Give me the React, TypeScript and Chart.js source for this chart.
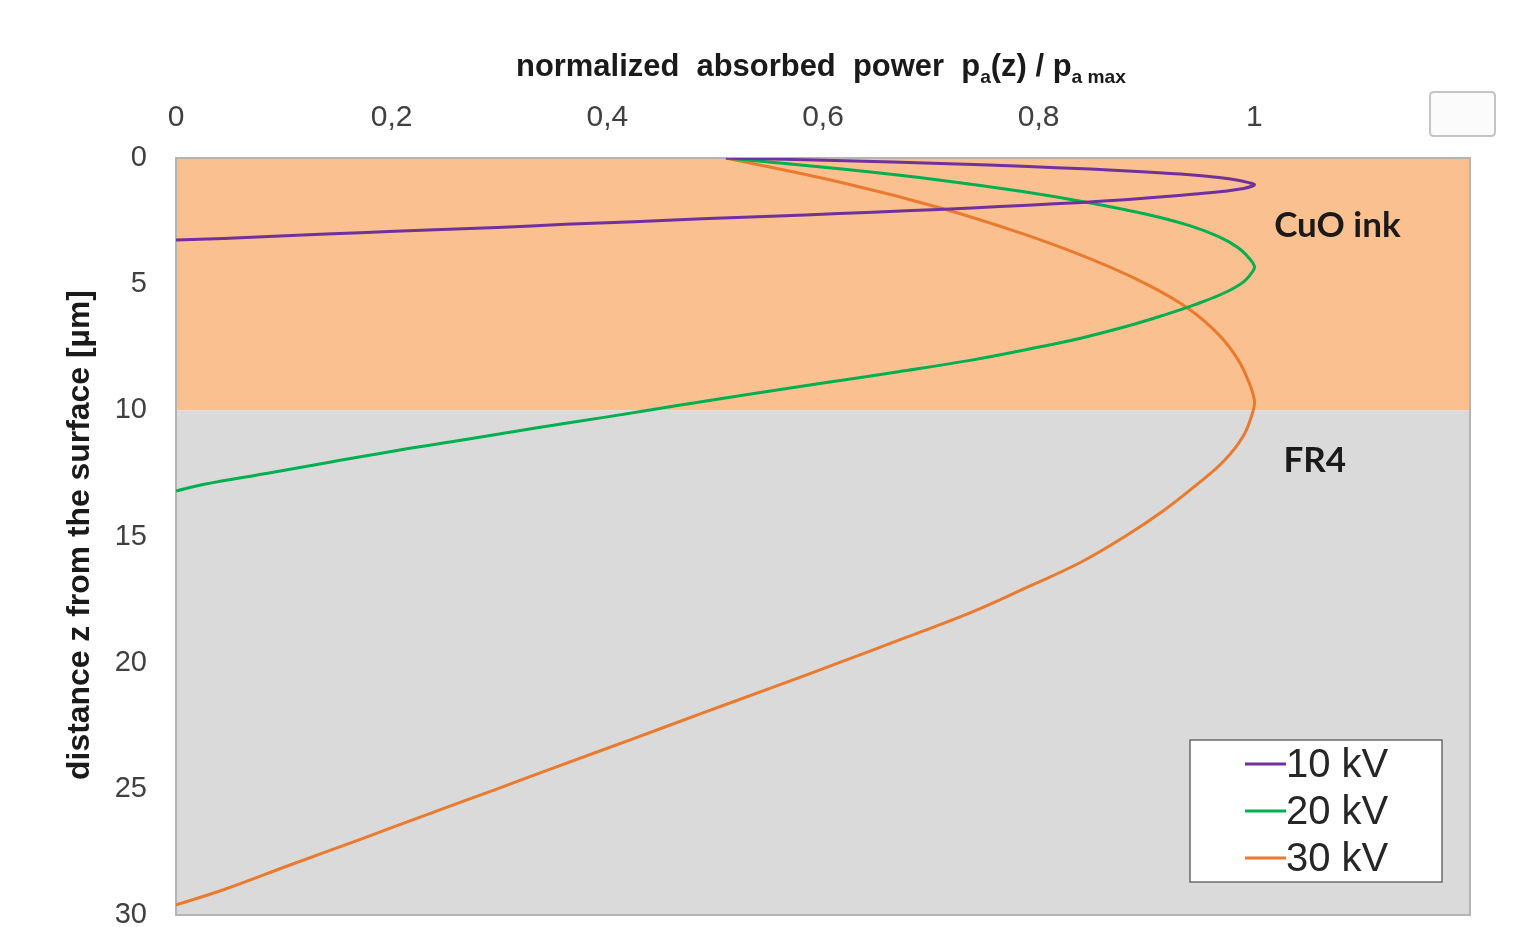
import React, { useEffect, useRef } from "react";
import { Chart, registerables } from "chart.js";

Chart.register(...registerables);

// ---- data ----
const seriesLabels = ["10 kV", "20 kV", "30 kV"];
const seriesColors = ["#7030A0", "#00B050", "#E97A2E"];

const depth10 = [0, 0.11, 0.22, 0.33, 0.44, 0.55, 0.66, 0.77, 0.88, 0.99, 1.05, 1.1, 1.21, 1.32, 1.43, 1.54, 1.65, 1.76, 1.87, 1.98, 2.09, 2.2, 2.31, 2.41, 2.53, 2.63, 2.75, 2.85, 2.96, 3.07, 3.19, 3.25];
const power10 = [0.51, 0.62, 0.709, 0.785, 0.848, 0.9, 0.94, 0.967, 0.985, 0.996, 1.0, 0.999, 0.99, 0.972, 0.945, 0.915, 0.88, 0.84, 0.79, 0.738, 0.677, 0.615, 0.552, 0.488, 0.425, 0.361, 0.298, 0.234, 0.171, 0.107, 0.044, 0];

const depth20 = [0, 0.45, 0.88, 1.33, 1.78, 2.23, 2.68, 3.12, 3.56, 4.01, 4.28, 4.46, 4.91, 5.35, 5.81, 6.24, 6.69, 7.13, 7.58, 8.03, 8.47, 8.92, 9.37, 9.81, 10.26, 10.69, 11.15, 11.59, 12.04, 12.49, 12.94, 13.2];
const power20 = [0.51, 0.62, 0.709, 0.785, 0.848, 0.9, 0.94, 0.967, 0.985, 0.996, 1.0, 0.999, 0.99, 0.972, 0.945, 0.915, 0.88, 0.84, 0.79, 0.735, 0.67, 0.6, 0.53, 0.465, 0.4, 0.335, 0.27, 0.205, 0.145, 0.085, 0.025, 0];

const depth30 = [0, 1, 1.98, 3, 4, 5, 6, 7, 8, 9, 9.6, 10, 11, 12, 13, 14, 15, 16, 17, 18, 19, 20, 21, 22, 23, 24, 25, 26, 27, 28, 29, 29.6];
const power30 = [0.51, 0.62, 0.709, 0.785, 0.848, 0.9, 0.94, 0.967, 0.985, 0.996, 1.0, 0.999, 0.99, 0.972, 0.945, 0.915, 0.88, 0.84, 0.79, 0.738, 0.677, 0.615, 0.552, 0.488, 0.425, 0.361, 0.298, 0.234, 0.171, 0.107, 0.044, 0];

const xTickValues = [0, 0.2, 0.4, 0.6, 0.8, 1];
const yTickValues = [0, 5, 10, 15, 20, 25, 30];

const layerNames = ["CuO ink", "FR4"];
const layerTop = [0, 10];
const layerBottom = [10, 30];
const layerColors = ["rgb(250,192,144)", "rgb(218,218,218)"];
const layerLabelX = [1.077, 1.056];
const layerLabelZ = [2.7, 12.0];

const xTitleRuns = [
  { text: "normalized  absorbed  power  p", sub: false },
  { text: "a", sub: true },
  { text: "(z) / p", sub: false },
  { text: "a max", sub: true },
];
const yTitle = "distance z from the surface [µm]";

const SANS = "'Liberation Sans', Arial, Helvetica, sans-serif";
const LABEL_FONT = "Lato, 'Open Sans', 'Liberation Sans', sans-serif";

function toPoints(zs: number[], ps: number[]) {
  return zs.map((z, i) => ({ x: ps[i], y: z }));
}

const overlayPlugin = {
  id: "overlay",
  beforeDatasetsDraw(chart: any) {
    const { ctx, chartArea, scales } = chart;
    const ys = scales.y;
    ctx.save();
    for (let i = 0; i < layerNames.length; i++) {
      const t = ys.getPixelForValue(layerTop[i]);
      const b = ys.getPixelForValue(layerBottom[i]);
      ctx.fillStyle = layerColors[i];
      ctx.fillRect(chartArea.left, t, chartArea.right - chartArea.left, b - t);
    }
    ctx.strokeStyle = "#B4B4B4";
    ctx.lineWidth = 2;
    ctx.strokeRect(chartArea.left, chartArea.top, chartArea.right - chartArea.left, chartArea.bottom - chartArea.top);
    // layer labels
    ctx.fillStyle = "#1a1a1a";
    ctx.font = `bold 35px ${LABEL_FONT}`;
    ctx.textAlign = "center";
    ctx.textBaseline = "middle";
    for (let i = 0; i < layerNames.length; i++) {
      ctx.fillText(layerNames[i], scales.x.getPixelForValue(layerLabelX[i]), ys.getPixelForValue(layerLabelZ[i]));
    }
    ctx.restore();
  },
  afterDraw(chart: any) {
    const { ctx, chartArea } = chart;
    ctx.save();
    // top axis title with subscripts
    const base = 30;
    const measure = (size: number) => {
      let w = 0;
      for (const r of xTitleRuns) {
        const s = r.sub ? size * 0.62 : size;
        ctx.font = `bold ${s}px ${SANS}`;
        w += ctx.measureText(r.text).width;
      }
      return w;
    };
    const targetW = 610;
    const size = base * targetW / measure(base);
    let x = 821 - targetW / 2;
    const baseY = 76;
    ctx.fillStyle = "#1a1a1a";
    ctx.textAlign = "left";
    ctx.textBaseline = "alphabetic";
    for (const r of xTitleRuns) {
      const s = r.sub ? size * 0.62 : size;
      ctx.font = `bold ${s}px ${SANS}`;
      ctx.fillText(r.text, x, r.sub ? baseY + size * 0.22 : baseY);
      x += ctx.measureText(r.text).width;
    }
    // left axis title
    ctx.font = `bold 30px ${SANS}`;
    const yw = ctx.measureText(yTitle).width;
    const ys = 30 * 490 / yw;
    ctx.font = `bold ${ys}px ${SANS}`;
    ctx.translate(80, 535);
    ctx.rotate(-Math.PI / 2);
    ctx.textAlign = "center";
    ctx.textBaseline = "middle";
    ctx.fillText(yTitle, 0, 0);
    ctx.setTransform(1, 0, 0, 1, 0, 0);

    // legend
    const lx0 = chartArea.right - 280;
    const ly0 = chartArea.bottom - 175;
    const lw = 252;
    const lh = 142;
    ctx.fillStyle = "#ffffff";
    ctx.fillRect(lx0, ly0, lw, lh);
    ctx.strokeStyle = "#6b6b6b";
    ctx.lineWidth = 1.5;
    ctx.strokeRect(lx0, ly0, lw, lh);
    ctx.font = `40px ${SANS}`;
    ctx.textAlign = "left";
    ctx.textBaseline = "middle";
    for (let i = 0; i < seriesLabels.length; i++) {
      const cy = ly0 + 24 + i * 47;
      ctx.strokeStyle = seriesColors[i];
      ctx.lineWidth = 3;
      ctx.beginPath();
      ctx.moveTo(lx0 + 55, cy);
      ctx.lineTo(lx0 + 96, cy);
      ctx.stroke();
      ctx.fillStyle = "#262626";
      ctx.fillText(seriesLabels[i], lx0 + 96, cy + 2);
    }

    // small empty box at top right
    const bx = 1430, by = 92, bw = 65, bh = 44, rr = 4;
    ctx.beginPath();
    ctx.moveTo(bx + rr, by);
    ctx.lineTo(bx + bw - rr, by);
    ctx.quadraticCurveTo(bx + bw, by, bx + bw, by + rr);
    ctx.lineTo(bx + bw, by + bh - rr);
    ctx.quadraticCurveTo(bx + bw, by + bh, bx + bw - rr, by + bh);
    ctx.lineTo(bx + rr, by + bh);
    ctx.quadraticCurveTo(bx, by + bh, bx, by + bh - rr);
    ctx.lineTo(bx, by + rr);
    ctx.quadraticCurveTo(bx, by, bx + rr, by);
    ctx.closePath();
    ctx.fillStyle = "#fbfbfb";
    ctx.fill();
    ctx.strokeStyle = "#c4c4c4";
    ctx.lineWidth = 2;
    ctx.stroke();
    ctx.restore();
  },
};

export default function App() {
  const canvasRef = useRef<HTMLCanvasElement | null>(null);

  useEffect(() => {
    document.body.style.margin = "0";
    const canvas = canvasRef.current;
    if (!canvas) return;
    const depths = [depth10, depth20, depth30];
    const powers = [power10, power20, power30];
    const chart = new Chart(canvas, {
      type: "line",
      data: {
        datasets: seriesLabels.map((label, i) => ({
          label,
          data: toPoints(depths[i], powers[i]),
          borderColor: seriesColors[i],
          backgroundColor: seriesColors[i],
          borderWidth: 3,
          pointRadius: 0,
          tension: 0.4,
          fill: false,
        })),
      },
      options: {
        responsive: false,
        animation: false,
        devicePixelRatio: 1,
        layout: { padding: { left: 0, top: 0, right: 45, bottom: 12 } },
        plugins: {
          legend: { display: false },
          tooltip: { enabled: false },
        },
        scales: {
          x: {
            type: "linear",
            position: "top",
            min: 0,
            max: 1.2,
            grid: { display: false, drawTicks: false },
            border: { display: false },
            afterBuildTicks: (scale: any) => {
              scale.ticks = xTickValues.map((v) => ({ value: v }));
            },
            afterFit: (scale: any) => {
              scale.height = 158;
              scale.paddingLeft = 0;
              scale.paddingRight = 0;
            },
            ticks: {
              padding: 22,
              color: "#404040",
              font: { family: SANS, size: 30 },
              maxRotation: 0,
              autoSkip: false,
              callback: (v: any) => String(v).replace(".", ","),
            },
          },
          y: {
            type: "linear",
            reverse: true,
            min: 0,
            max: 30,
            grid: { display: false, drawTicks: false },
            border: { display: false },
            afterBuildTicks: (scale: any) => {
              scale.ticks = yTickValues.map((v) => ({ value: v }));
            },
            afterFit: (scale: any) => {
              scale.width = 176;
              scale.paddingTop = 0;
              scale.paddingBottom = 0;
            },
            ticks: {
              padding: 29,
              color: "#404040",
              font: { family: SANS, size: 29 },
              autoSkip: false,
              callback: (v: any) => String(v),
            },
          },
        },
      } as any,
      plugins: [overlayPlugin],
    });
    return () => chart.destroy();
  }, []);

  return (
    <div style={{ position: "absolute", left: 0, top: 0, width: 1515, height: 927, background: "#ffffff" }}>
      <canvas ref={canvasRef} width={1515} height={927} style={{ display: "block" }} />
    </div>
  );
}
